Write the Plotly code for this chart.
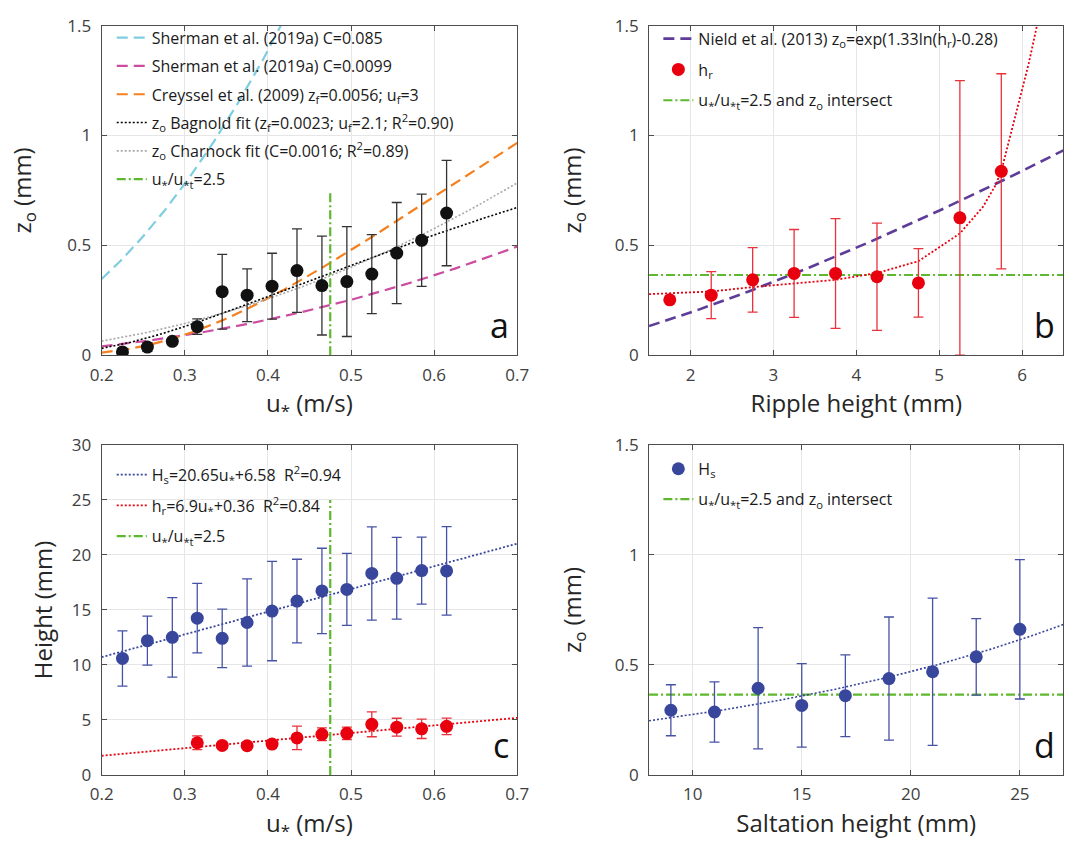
import numpy as np
import plotly.graph_objects as go

# ---------------- data ----------------
# binned friction velocity (m/s), panels a and c
ustar = [0.225, 0.255, 0.285, 0.315, 0.345, 0.375, 0.405, 0.435, 0.465, 0.495, 0.525, 0.555, 0.585, 0.615]
z0_ustar = [0.015, 0.037, 0.063, 0.13, 0.289, 0.273, 0.314, 0.385, 0.317, 0.335, 0.369, 0.465, 0.523, 0.647]
z0_ustar_err = [0.01, 0.02, 0.015, 0.035, 0.17, 0.12, 0.15, 0.19, 0.225, 0.25, 0.18, 0.23, 0.21, 0.24]

# saltation height and ripple height vs u*, panel c
salt_height = [10.59, 12.21, 12.51, 14.25, 12.42, 13.86, 14.9, 15.81, 16.73, 16.87, 18.32, 17.88, 18.58, 18.55]
salt_height_err = [2.51, 2.22, 3.62, 3.16, 2.66, 3.96, 4.52, 3.8, 3.88, 3.28, 4.24, 3.72, 3.05, 4.02]
ustar_ripple = [0.315, 0.345, 0.375, 0.405, 0.435, 0.465, 0.495, 0.525, 0.555, 0.585, 0.615]
ripple_height = [2.92, 2.68, 2.65, 2.8, 3.36, 3.69, 3.78, 4.6, 4.34, 4.19, 4.42]
ripple_height_err = [0.63, 0.3, 0.25, 0.35, 1.07, 0.58, 0.56, 1.13, 0.81, 0.88, 0.75]

# z0 binned by ripple height, panel b
hr_bins = [1.75, 2.25, 2.75, 3.25, 3.75, 4.25, 4.75, 5.25, 5.75]
z0_hr = [0.252, 0.273, 0.343, 0.372, 0.372, 0.357, 0.329, 0.625, 0.837]
z0_hr_err = [0.0, 0.107, 0.147, 0.2, 0.25, 0.244, 0.156, 0.625, 0.444]
# z0 predicted from the u* relations, expressed against ripple height
hr_pred = [1.5, 2.25, 2.75, 3.25, 3.75, 4.25, 4.75, 5.25, 5.53, 5.69, 5.77, 5.92, 6.08, 6.18]
z0_hr_pred = [0.278, 0.29, 0.31, 0.325, 0.343, 0.374, 0.428, 0.554, 0.676, 0.78, 0.868, 1.09, 1.326, 1.5]

# z0 binned by saltation height, panel d
hs_bins = [9, 11, 13, 15, 17, 19, 21, 23, 25]
z0_hs = [0.294, 0.286, 0.394, 0.316, 0.36, 0.438, 0.469, 0.537, 0.662]
z0_hs_err = [0.116, 0.137, 0.276, 0.19, 0.186, 0.28, 0.335, 0.174, 0.317]

# model / fit parameters
g = 9.81
kappa = 0.41
sherman_c_high = 0.085
sherman_c_low = 0.0099
creyssel_zf, creyssel_uf = 0.0056, 3.0
bagnold_zf, bagnold_uf = 0.0023, 2.1
charnock_fit_c = 0.0016
nield_a, nield_b = 1.33, -0.28
hs_fit_slope, hs_fit_icpt = 20.65, 6.58
hr_fit_slope, hr_fit_icpt = 6.9, 0.36
z0_hs_fit_a, z0_hs_fit_b = 0.16, 0.0538
ustar_ratio_line = 0.475      # u*/u*t = 2.5
z0_intersect = 0.365

# ---------------- styling ----------------
C_CYAN = "#7fcde0"
C_MAG = "#cc4ca0"
C_ORANGE = "#f5801f"
C_GRAY = "#a8a8a8"
C_GREEN = "#5db82e"
C_PURPLE = "#5e3d99"
C_RED = "#e8000e"
C_BLUE = "#38469c"
FONT = "Open Sans"
DASH = "11px,6px"
DOT = "2px,2px"
DASHDOT = "9px,3px,2px,3px"

u_grid = np.linspace(0.2, 0.7, 201)
hr_grid = np.linspace(1.5, 6.5, 201)
hs_grid = np.linspace(8, 27, 201)

fig = go.Figure()


def line(x, y, color, dash, width, name=None, xa="x", ya="y", legend=None, rank=None):
    fig.add_trace(go.Scatter(
        x=x, y=y, mode="lines", name=name,
        line=dict(color=color, dash=dash, width=width),
        showlegend=name is not None, legend=legend, legendrank=rank,
        legendgroup=name, xaxis=xa, yaxis=ya, hoverinfo="skip"))


def points(x, y, err, color, errcolor, name=None, xa="x", ya="y", legend=None, rank=None):
    fig.add_trace(go.Scatter(
        x=x, y=y, mode="markers", name=name,
        marker=dict(color=color, size=13, line=dict(width=0)),
        error_y=dict(type="data", array=err, visible=True, color=errcolor, thickness=1.3, width=5),
        showlegend=name is not None, legend=legend, legendrank=rank,
        legendgroup=name, xaxis=xa, yaxis=ya))


# ---- panel a: z0 vs u* ----
u = u_grid
line(u, 1000 * sherman_c_high * u**2 / g, C_CYAN, DASH, 2.2,
     "Sherman et al. (2019a) C=0.085", legend="legend", rank=1)
line(u, 1000 * sherman_c_low * u**2 / g, C_MAG, DASH, 2.2,
     "Sherman et al. (2019a) C=0.0099", legend="legend", rank=2)
line(u, 1000 * creyssel_zf * np.exp(-kappa * creyssel_uf / u), C_ORANGE, DASH, 2.2,
     "Creyssel et al. (2009) z<sub>f</sub>=0.0056; u<sub>f</sub>=3", legend="legend", rank=3)
line(u, 1000 * charnock_fit_c * u**2, C_GRAY, DOT, 1.6,
     "z<sub>o</sub> Charnock fit (C=0.0016; R<sup>2</sup>=0.89)", legend="legend", rank=5)
line(u, 1000 * bagnold_zf * np.exp(-kappa * bagnold_uf / u), "#000000", DOT, 1.6,
     "z<sub>o</sub> Bagnold fit (z<sub>f</sub>=0.0023; u<sub>f</sub>=2.1; R<sup>2</sup>=0.90)",
     legend="legend", rank=4)
line([ustar_ratio_line, ustar_ratio_line], [0, 0.75], C_GREEN, DASHDOT, 2.2,
     "u<sub>*</sub>/u<sub>*t</sub>=2.5", legend="legend", rank=6)
points(ustar, z0_ustar, z0_ustar_err, "#111111", "#333333")

# ---- panel b: z0 vs ripple height ----
line(hr_grid, 1000 * np.exp(nield_a * np.log(hr_grid / 1000) + nield_b), C_PURPLE, DASH, 2.6,
     "Nield et al. (2013) z<sub>o</sub>=exp(1.33ln(h<sub>r</sub>)-0.28)",
     xa="x2", ya="y2", legend="legend2", rank=1)
line([1.5, 6.5], [z0_intersect, z0_intersect], C_GREEN, DASHDOT, 2.2,
     "u<sub>*</sub>/u<sub>*t</sub>=2.5 and z<sub>o</sub> intersect",
     xa="x2", ya="y2", legend="legend2", rank=3)
line(hr_pred, z0_hr_pred, C_RED, DOT, 1.8, xa="x2", ya="y2")
points(hr_bins, z0_hr, z0_hr_err, C_RED, "#e8323c", "h<sub>r</sub>",
       xa="x2", ya="y2", legend="legend2", rank=2)

# ---- panel c: heights vs u* ----
line(u, hs_fit_slope * u + hs_fit_icpt, C_BLUE, DOT, 1.8,
     "H<sub>s</sub>=20.65u<sub>*</sub>+6.58  R<sup>2</sup>=0.94",
     xa="x3", ya="y3", legend="legend3", rank=1)
line(u, hr_fit_slope * u + hr_fit_icpt, C_RED, DOT, 1.8,
     "h<sub>r</sub>=6.9u<sub>*</sub>+0.36  R<sup>2</sup>=0.84",
     xa="x3", ya="y3", legend="legend3", rank=2)
line([ustar_ratio_line, ustar_ratio_line], [0, 25], C_GREEN, DASHDOT, 2.2,
     "u<sub>*</sub>/u<sub>*t</sub>=2.5 ", xa="x3", ya="y3", legend="legend3", rank=3)
points(ustar, salt_height, salt_height_err, C_BLUE, "#4652a4", xa="x3", ya="y3")
points(ustar_ripple, ripple_height, ripple_height_err, C_RED, "#e8323c", xa="x3", ya="y3")

# ---- panel d: z0 vs saltation height ----
line([8, 27], [z0_intersect, z0_intersect], C_GREEN, DASHDOT, 2.2,
     "u<sub>*</sub>/u<sub>*t</sub>=2.5 and z<sub>o</sub> intersect ",
     xa="x4", ya="y4", legend="legend4", rank=2)
line(hs_grid, z0_hs_fit_a * np.exp(z0_hs_fit_b * hs_grid), C_BLUE, DOT, 1.6, xa="x4", ya="y4")
points(hs_bins, z0_hs, z0_hs_err, C_BLUE, "#4652a4", "H<sub>s</sub>",
       xa="x4", ya="y4", legend="legend4", rank=1)

# ---------------- layout ----------------
W, H = 1083, 854
ax_common = dict(
    showline=True, linecolor="#4d4d4d", linewidth=1, mirror="ticks",
    ticks="inside", ticklen=5, tickcolor="#4d4d4d", tickwidth=1,
    showgrid=True, gridcolor="#e6e6e6", gridwidth=1, zeroline=False,
    tickfont=dict(size=17, color="#404040", family=FONT),
    title_font=dict(size=24, color="#262626", family=FONT),
)
xdom_left = [91.7 / W, 516.7 / W]
xdom_right = [651.5 / W, 1075.3 / W]
ydom_top = [1 - 352.7 / H, 1 - 14 / H]
ydom_bot = [1 - 784 / H, 1 - 445 / H]


def xaxis(dom, anchor, rng, dtick, title, tick0=None):
    d = dict(ax_common, domain=dom, anchor=anchor, range=rng, dtick=dtick,
             title=dict(text=title, standoff=10), ticklabelstandoff=4)
    if tick0 is not None:
        d["tick0"] = tick0
    return d


def yaxis(dom, anchor, rng, dtick, title, standoff):
    return dict(ax_common, domain=dom, anchor=anchor, range=rng, dtick=dtick,
                title=dict(text=title, standoff=standoff), ticklabelstandoff=6)


legend_common = dict(
    bgcolor="rgba(0,0,0,0)", borderwidth=0, xanchor="left", yanchor="top",
    font=dict(size=16, color="#1a1a1a", family=FONT), itemwidth=30,
    traceorder="grouped",
)

fig.update_layout(
    width=W, height=H, autosize=False,
    margin=dict(l=0, r=0, t=0, b=0),
    paper_bgcolor="white", plot_bgcolor="white",
    font=dict(family=FONT, color="#262626"),
    showlegend=True,
    xaxis=xaxis(xdom_left, "y", [0.2, 0.7], 0.1, "u<sub>*</sub> (m/s)"),
    yaxis=yaxis(ydom_top, "x", [0, 1.5], 0.5, "z<sub>o</sub> (mm)", 28),
    xaxis2=xaxis(xdom_right, "y2", [1.5, 6.5], 1, "Ripple height (mm)", tick0=0),
    yaxis2=yaxis(ydom_top, "x2", [0, 1.5], 0.5, "z<sub>o</sub> (mm)", 26),
    xaxis3=xaxis(xdom_left, "y3", [0.2, 0.7], 0.1, "u<sub>*</sub> (m/s)"),
    yaxis3=yaxis(ydom_bot, "x3", [0, 30], 5, "Height (mm)", 12),
    xaxis4=xaxis(xdom_right, "y4", [8, 27], 5, "Saltation height (mm)", tick0=0),
    yaxis4=yaxis(ydom_bot, "x4", [0, 1.5], 0.5, "z<sub>o</sub> (mm)", 26),
    legend=dict(legend_common, x=102 / W, y=1 - 9 / H, tracegroupgap=4.5),
    legend2=dict(legend_common, x=661 / W, y=1 - 10 / H, tracegroupgap=7),
    legend3=dict(legend_common, x=102 / W, y=1 - 458 / H, tracegroupgap=7),
    legend4=dict(legend_common, x=661 / W, y=1 - 452 / H, tracegroupgap=6.5),
)

for letter, xr, yr in [("a", "x", "y"), ("b", "x2", "y2"), ("c", "x3", "y3"), ("d", "x4", "y4")]:
    fig.add_annotation(
        text=letter, xref=f"{xr} domain", yref=f"{yr} domain", x=0.985, y=0.0,
        xanchor="right", yanchor="bottom", yshift=5, showarrow=False,
        font=dict(size=34, color="#111111", family=FONT))

fig.write_html("out.html")
